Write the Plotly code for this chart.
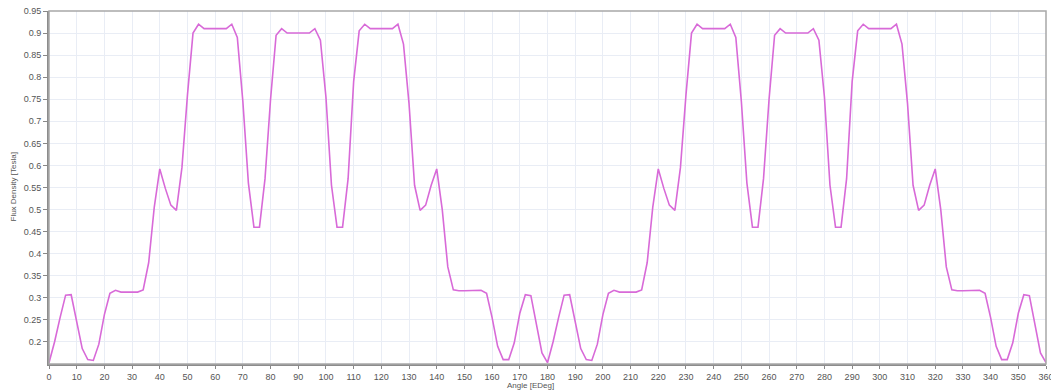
import plotly.graph_objects as go

# Rotor angle in electrical degrees, sampled every 2 degrees
angle_edeg = list(range(0, 361, 2))

# Air-gap flux density [Tesla] at each angle
flux_density = [
    0.153, 0.200, 0.255, 0.306, 0.307, 0.250, 0.185, 0.160, 0.158, 0.195,
    0.262, 0.310, 0.317, 0.313, 0.313, 0.313, 0.313, 0.318, 0.380, 0.505,
    0.592, 0.548, 0.510, 0.498, 0.595, 0.760, 0.900, 0.920, 0.910, 0.910,
    0.910, 0.910, 0.910, 0.920, 0.890, 0.745, 0.560, 0.460, 0.460, 0.570,
    0.750, 0.895, 0.910, 0.900, 0.900, 0.900, 0.900, 0.900, 0.910, 0.884,
    0.755, 0.555, 0.460, 0.460, 0.570, 0.790, 0.905, 0.920, 0.910, 0.910,
    0.910, 0.910, 0.910, 0.920, 0.875, 0.740, 0.555, 0.498, 0.510, 0.555,
    0.592, 0.500, 0.370, 0.318, 0.316, 0.316, 0.316, 0.316, 0.317, 0.310,
    0.255, 0.190, 0.160, 0.160, 0.198, 0.265, 0.307, 0.305, 0.240, 0.175,
    0.153,
    0.200, 0.255, 0.306, 0.307, 0.250, 0.185, 0.160, 0.158, 0.195,
    0.262, 0.310, 0.317, 0.313, 0.313, 0.313, 0.313, 0.318, 0.380, 0.505,
    0.592, 0.548, 0.510, 0.498, 0.595, 0.760, 0.900, 0.920, 0.910, 0.910,
    0.910, 0.910, 0.910, 0.920, 0.890, 0.745, 0.560, 0.460, 0.460, 0.570,
    0.750, 0.895, 0.910, 0.900, 0.900, 0.900, 0.900, 0.900, 0.910, 0.884,
    0.755, 0.555, 0.460, 0.460, 0.570, 0.790, 0.905, 0.920, 0.910, 0.910,
    0.910, 0.910, 0.910, 0.920, 0.875, 0.740, 0.555, 0.498, 0.510, 0.555,
    0.592, 0.500, 0.370, 0.318, 0.316, 0.316, 0.316, 0.316, 0.317, 0.310,
    0.255, 0.190, 0.160, 0.160, 0.198, 0.265, 0.307, 0.305, 0.240, 0.175,
    0.153,
]

x_ticks = list(range(0, 361, 10))
y_ticks = [0.2, 0.25, 0.3, 0.35, 0.4, 0.45, 0.5, 0.55, 0.6, 0.65,
           0.7, 0.75, 0.8, 0.85, 0.9, 0.95]
y_tick_text = ["0.2", "0.25", "0.3", "0.35", "0.4", "0.45", "0.5", "0.55",
               "0.6", "0.65", "0.7", "0.75", "0.8", "0.85", "0.9", "0.95"]

x_title = "Angle [EDeg]"
y_title = "Flux Density [Tesla]"

fig = go.Figure()
fig.add_trace(go.Scatter(
    x=angle_edeg,
    y=flux_density,
    mode="lines",
    line=dict(color="#d86ad8", width=1.6),
    showlegend=False,
))

axis_font = dict(family="Liberation Sans, Arial, sans-serif", size=9, color="#555555")
title_font = dict(family="Liberation Sans, Arial, sans-serif", size=8, color="#555555")

fig.update_layout(
    width=1051,
    height=392,
    margin=dict(l=49, r=5, t=11, b=28),
    paper_bgcolor="white",
    plot_bgcolor="white",
    font=axis_font,
    shapes=[
        # frame around the plotting area
        dict(type="rect", xref="paper", yref="paper", x0=0, x1=1, y0=0, y1=1,
             line=dict(color="#a8a8a8", width=1.5), layer="above"),
    ],
    annotations=[
        dict(text=x_title, xref="paper", yref="paper", x=0.483, y=0,
             yshift=-27, xanchor="center", yanchor="bottom",
             showarrow=False, font=title_font, borderpad=0),
        dict(text=y_title, xref="paper", yref="paper", x=0, y=0.5,
             xshift=-36, xanchor="center", yanchor="middle", textangle=-90,
             showarrow=False, font=title_font),
    ],
)

fig.update_xaxes(
    range=[0, 360],
    tickvals=x_ticks,
    ticks="outside",
    ticklen=3,
    tickcolor="#888888",
    ticklabeloverflow="allow",
    automargin=False,
    showgrid=True,
    gridcolor="#e9edf5",
    gridwidth=1,
    showline=True,
    linecolor="#8c8c8c",
    linewidth=2,
    zeroline=False,
    tickfont=axis_font,
)

fig.update_yaxes(
    range=[0.15, 0.95],
    tickvals=y_ticks,
    ticktext=y_tick_text,
    ticks="outside",
    ticklen=4,
    tickcolor="#888888",
    ticklabeloverflow="allow",
    automargin=False,
    showgrid=True,
    gridcolor="#e9edf5",
    gridwidth=1,
    showline=True,
    linecolor="#8c8c8c",
    linewidth=2,
    zeroline=False,
    tickfont=axis_font,
)

fig.write_html("out.html")
